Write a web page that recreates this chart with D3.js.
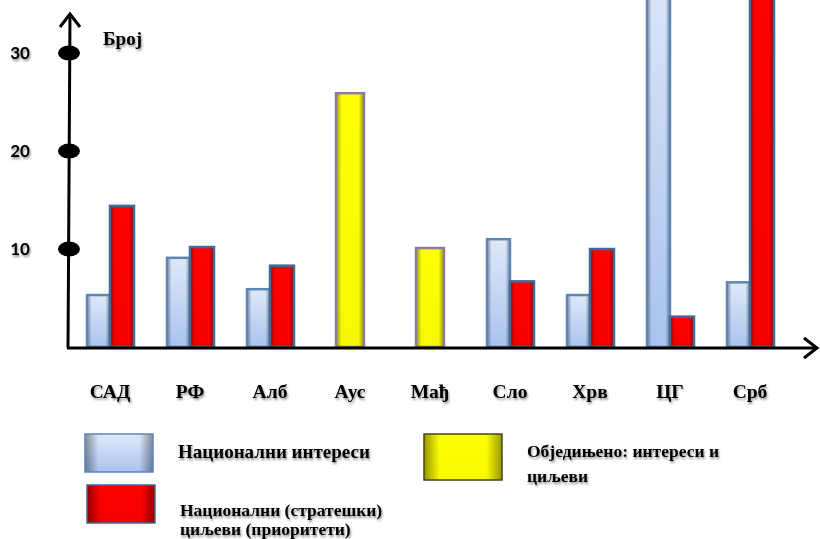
<!DOCTYPE html>
<html>
<head>
<meta charset="utf-8">
<script src="https://cdn.jsdelivr.net/npm/d3@7"></script>
<style>
    body { margin: 0; background: #ffffff; }
    svg { display: block; }
</style>
</head>
<body>
<div id="chart"></div>
<script>
const categories = ['САД', 'РФ', 'Алб', 'Аус', 'Мађ', 'Сло', 'Хрв', 'ЦГ', 'Срб'];
const interests = [5.3, 9.1, 5.9, null, null, 11.0, 5.3, 40, 6.6];
const goals = [14.4, 10.2, 8.3, null, null, 6.7, 10.0, 3.1, 40];
const combined = [null, null, null, 25.9, 10.1, null, null, null, null];
const yTicks = [10, 20, 30];

function main() {
    const svgWidth = 820;
    const svgHeight = 539;

    const svg = d3.select('#chart').append('svg')
        .attr('width', svgWidth)
        .attr('height', svgHeight);

    const defs = svg.append('defs');

    // soft text shadow like the original slide
    const shadow = defs.append('filter').attr('id', 'txtShadow')
        .attr('x', '-20%').attr('y', '-30%').attr('width', '140%').attr('height', '180%');
    shadow.append('feDropShadow')
        .attr('dx', 1).attr('dy', 2).attr('stdDeviation', 1.2)
        .attr('flood-color', '#000').attr('flood-opacity', 0.45);

    function vGrad(id, top, bottom) {
        const g = defs.append('linearGradient').attr('id', id)
            .attr('x1', 0).attr('y1', 0).attr('x2', 0).attr('y2', 1);
        g.append('stop').attr('offset', '0%').attr('stop-color', top);
        g.append('stop').attr('offset', '100%').attr('stop-color', bottom);
    }
    vGrad('blueFill', '#dfe8f9', '#a9c3ef');
    vGrad('redFill', '#ff0000', '#f20000');
    vGrad('yellowFill', '#ffff00', '#f8f800');

    // darker edges (inner glow)
    const edge = defs.append('linearGradient').attr('id', 'edgeShade')
        .attr('x1', 0).attr('y1', 0).attr('x2', 1).attr('y2', 0);
    [[0, 0.4], [0.2, 0], [0.8, 0], [1, 0.4]].forEach(s => {
        edge.append('stop').attr('offset', s[0]).attr('stop-color', '#000').attr('stop-opacity', s[1]);
    });

    const xScale = d3.scaleBand()
        .domain(categories)
        .range([70, 790]);

    const yScale = d3.scaleLinear()
        .domain([0, 30])
        .range([347, 53]);

    const barW = 23;
    const bars = [];
    categories.forEach((c, i) => {
        const cx = xScale(c) + xScale.bandwidth() / 2;
        if (interests[i] != null) bars.push({x: cx - barW, w: barW, v: interests[i], fill: 'url(#blueFill)', stroke: '#5a86b8'});
        if (goals[i] != null) bars.push({x: cx, w: barW + 1, v: goals[i], fill: 'url(#redFill)', stroke: '#3f6a9a'});
        if (combined[i] != null) bars.push({x: cx - 14, w: 28, v: combined[i], fill: 'url(#yellowFill)', stroke: '#8e7ca0'});
    });

    const gBars = svg.append('g');
    const barG = gBars.selectAll('g.bar').data(bars).enter().append('g').attr('class', 'bar');
    barG.append('rect')
        .attr('x', d => d.x)
        .attr('y', d => yScale(d.v))
        .attr('width', d => d.w)
        .attr('height', d => yScale(0) - yScale(d.v))
        .attr('fill', d => d.fill);
    barG.append('rect')
        .attr('x', d => d.x)
        .attr('y', d => yScale(d.v))
        .attr('width', d => d.w)
        .attr('height', d => yScale(0) - yScale(d.v))
        .attr('fill', 'url(#edgeShade)')
        .attr('stroke', d => d.stroke)
        .attr('stroke-width', 2.5);

    // axes
    const axisG = svg.append('g');
    axisG.append('line')
        .attr('x1', 68).attr('y1', yScale(0) + 1)
        .attr('x2', 70).attr('y2', 14)
        .attr('stroke', '#000').attr('stroke-width', 3);
    axisG.append('path')
        .attr('d', 'M60,27 L70,14 L80,27')
        .attr('fill', 'none').attr('stroke', '#000').attr('stroke-width', 3);
    axisG.append('line')
        .attr('x1', 67).attr('y1', yScale(0) + 1)
        .attr('x2', 816).attr('y2', yScale(0) + 1)
        .attr('stroke', '#000').attr('stroke-width', 3);
    axisG.append('path')
        .attr('d', `M804,${yScale(0) - 9} L817,${yScale(0) + 1} L804,${yScale(0) + 11}`)
        .attr('fill', 'none').attr('stroke', '#000').attr('stroke-width', 3);

    axisG.selectAll('ellipse.tick').data(yTicks).enter().append('ellipse')
        .attr('class', 'tick')
        .attr('cx', 69)
        .attr('cy', d => yScale(d))
        .attr('rx', 11).attr('ry', 7.5)
        .attr('fill', '#000');

    axisG.selectAll('text.tick').data(yTicks).enter().append('text')
        .attr('class', 'tick')
        .attr('x', 20)
        .attr('y', d => yScale(d) + 6)
        .attr('text-anchor', 'middle')
        .attr('filter', 'url(#txtShadow)')
        .style('font-family', 'Lato, "Open Sans", sans-serif')
        .style('font-weight', 'bold')
        .style('font-size', '17px')
        .text(d => d);

    svg.append('text')
        .attr('x', 103).attr('y', 45)
        .attr('filter', 'url(#txtShadow)')
        .style('font-family', '"Liberation Serif", serif')
        .style('font-weight', 'bold')
        .style('font-size', '19px')
        .text('Број');

    svg.append('g').selectAll('text').data(categories).enter().append('text')
        .attr('x', d => xScale(d) + xScale.bandwidth() / 2)
        .attr('y', 398)
        .attr('text-anchor', 'middle')
        .attr('filter', 'url(#txtShadow)')
        .style('font-family', '"Liberation Serif", serif')
        .style('font-weight', 'bold')
        .style('font-size', '19.5px')
        .text(d => d);

    // legend
    const legend = [
        {x: 85, y: 434, w: 68, h: 38, fill: 'url(#blueFill)', stroke: '#5a86b8', lines: ['Национални интереси'], tx: 178, ty: 458, fs: 19, lh: 19},
        {x: 87, y: 485, w: 68, h: 38, fill: 'url(#redFill)', stroke: '#3f6a9a', lines: ['Национални (стратешки)', 'циљеви (приоритети)'], tx: 180, ty: 516, fs: 17.5, lh: 19},
        {x: 424, y: 434, w: 78, h: 46, fill: 'url(#yellowFill)', stroke: '#444422', lines: ['Обједињено: интереси и', 'циљеви'], tx: 527, ty: 457, fs: 17.5, lh: 25}
    ];
    const lg = svg.append('g').selectAll('g').data(legend).enter().append('g');
    lg.append('rect')
        .attr('x', d => d.x).attr('y', d => d.y)
        .attr('width', d => d.w).attr('height', d => d.h)
        .attr('fill', d => d.fill);
    lg.append('rect')
        .attr('x', d => d.x).attr('y', d => d.y)
        .attr('width', d => d.w).attr('height', d => d.h)
        .attr('fill', 'url(#edgeShade)')
        .attr('stroke', d => d.stroke).attr('stroke-width', 1.5);
    lg.each(function (d) {
        const t = d3.select(this).append('text')
            .attr('filter', 'url(#txtShadow)')
            .style('font-family', '"Liberation Serif", serif')
            .style('font-weight', 'bold')
            .style('font-size', d.fs + 'px');
        d.lines.forEach((line, i) => {
            t.append('tspan').attr('x', d.tx).attr('y', d.ty + i * d.lh).text(line);
        });
    });
}

main();
</script>
</body>
</html>
